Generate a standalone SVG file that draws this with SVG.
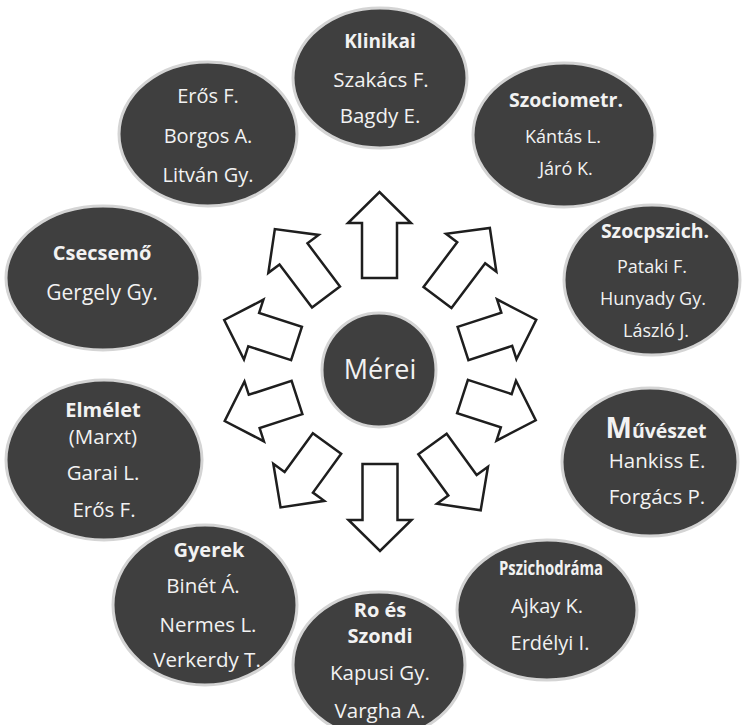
<svg xmlns="http://www.w3.org/2000/svg" width="742" height="725" viewBox="0 0 742 725">
<style>
.n{fill:#3f3f3f;stroke:#d4d4d4;stroke-width:3}
.t{font-family:"Open Sans","Liberation Sans",sans-serif;fill:#f2f2f2;text-anchor:middle}
.b{font-weight:bold}
.a{fill:#ffffff;stroke:#1e1e1e;stroke-width:2.5;stroke-linejoin:miter}
</style>
<rect width="742" height="725" fill="#ffffff"/>
<g id="connectors">
<polygon class="a" transform="translate(379.5,278) rotate(-90)" points="0,-17.5 55,-17.5 55,-31.5 86,0 55,31.5 55,17.5 0,17.5"/>
<polygon class="a" transform="translate(437.5,297.5) rotate(-53)" points="0,-17.5 56,-17.5 56,-31.5 87,0 56,31.5 56,17.5 0,17.5"/>
<polygon class="a" transform="translate(326,297) rotate(-127)" points="0,-17.5 54,-17.5 54,-31.5 85,0 54,31.5 54,17.5 0,17.5"/>
<polygon class="a" transform="translate(296.5,343.5) rotate(-162)" points="0,-17.5 45,-17.5 45,-31.5 76,0 45,31.5 45,17.5 0,17.5"/>
<polygon class="a" transform="translate(297,397.5) rotate(162)" points="0,-17.5 45,-17.5 45,-31.5 76,0 45,31.5 45,17.5 0,17.5"/>
<polygon class="a" transform="translate(327,443.5) rotate(126)" points="0,-17.5 48,-17.5 48,-31.5 79,0 48,31.5 48,17.5 0,17.5"/>
<polygon class="a" transform="translate(380,464) rotate(90)" points="0,-17.5 56,-17.5 56,-31.5 87,0 56,31.5 56,17.5 0,17.5"/>
<polygon class="a" transform="translate(432.5,444) rotate(54)" points="0,-17.5 51,-17.5 51,-31.5 82,0 51,31.5 51,17.5 0,17.5"/>
<polygon class="a" transform="translate(462.5,396.5) rotate(18)" points="0,-17.5 46,-17.5 46,-31.5 77,0 46,31.5 46,17.5 0,17.5"/>
<polygon class="a" transform="translate(463,343.5) rotate(-18)" points="0,-17.5 46,-17.5 46,-31.5 77,0 46,31.5 46,17.5 0,17.5"/>
</g>
<g id="node-eros">
<ellipse class="n" cx="208" cy="134" rx="89" ry="72"/>
<text class="t" x="208" y="103" font-size="20">Erős F.</text>
<text class="t" x="208" y="143" font-size="20">Borgos A.</text>
<text class="t" x="208" y="182" font-size="20">Litván Gy.</text>
</g>
<g id="node-klinikai">
<ellipse class="n" cx="380" cy="78" rx="87" ry="70"/>
<text class="t b" x="380" y="48" font-size="19">Klinikai</text>
<text class="t" x="381" y="87" font-size="20.5">Szakács F.</text>
<text class="t" x="380" y="123" font-size="20.5">Bagdy E.</text>
</g>
<g id="node-szociometr">
<ellipse class="n" cx="564" cy="135" rx="91" ry="72"/>
<text class="t b" x="566" y="107" font-size="19.5">Szociometr.</text>
<text class="t" x="563" y="143" font-size="18">Kántás L.</text>
<text class="t" x="566" y="175" font-size="18">Járó K.</text>
</g>
<g id="node-szocpszich">
<ellipse class="n" cx="652" cy="280" rx="88" ry="75"/>
<text class="t b" x="655" y="238" font-size="19.5">Szocpszich.</text>
<text class="t" x="652" y="273" font-size="18">Pataki F.</text>
<text class="t" x="653" y="305" font-size="18">Hunyady Gy.</text>
<text class="t" x="656" y="337" font-size="18">László J.</text>
</g>
<g id="node-muveszet">
<ellipse class="n" cx="650" cy="462" rx="88" ry="74"/>
<text class="t b" x="656" y="438" font-size="19.5"><tspan font-size="28">M</tspan>űvészet</text>
<text class="t" x="657" y="468" font-size="20.5">Hankiss E.</text>
<text class="t" x="657" y="504" font-size="20.5">Forgács P.</text>
</g>
<g id="node-pszichodrama">
<ellipse class="n" cx="547" cy="610" rx="90" ry="70"/>
<text class="t b" x="551" y="575" font-size="19" textLength="104" lengthAdjust="spacingAndGlyphs">Pszichodráma</text>
<text class="t" x="547" y="613" font-size="20">Ajkay K.</text>
<text class="t" x="550" y="650" font-size="20">Erdélyi I.</text>
</g>
<g id="node-gyerek">
<ellipse class="n" cx="205" cy="605" rx="92" ry="80"/>
<text class="t b" x="209" y="557" font-size="20">Gyerek</text>
<text class="t" x="203" y="593" font-size="20.5">Binét Á.</text>
<text class="t" x="208" y="632" font-size="20.5">Nermes L.</text>
<text class="t" x="207" y="667" font-size="20.5">Verkerdy T.</text>
</g>
<g id="node-ro-szondi">
<ellipse class="n" cx="379" cy="665" rx="86" ry="73"/>
<text class="t b" x="380" y="617" font-size="20">Ro és</text>
<text class="t b" x="380" y="643" font-size="20">Szondi</text>
<text class="t" x="380" y="680" font-size="20.5">Kapusi Gy.</text>
<text class="t" x="380" y="718" font-size="20.5">Vargha A.</text>
</g>
<g id="node-elmelet">
<ellipse class="n" cx="104" cy="460" rx="98" ry="80"/>
<text class="t b" x="103" y="417" font-size="20">Elmélet</text>
<text class="t" x="103" y="444" font-size="20.5">(Marxt)</text>
<text class="t" x="103" y="480" font-size="20.5">Garai L.</text>
<text class="t" x="104" y="517" font-size="20.5">Erős F.</text>
</g>
<g id="node-csecsemo">
<ellipse class="n" cx="103" cy="278" rx="97" ry="72"/>
<text class="t b" x="102" y="260" font-size="20">Csecsemő</text>
<text class="t" x="102" y="300" font-size="21">Gergely Gy.</text>
</g>
<g id="node-merei">
<circle class="n" cx="379" cy="370" r="57"/>
<text class="t" x="380" y="379" font-size="27">Mérei</text>
</g>
</svg>
